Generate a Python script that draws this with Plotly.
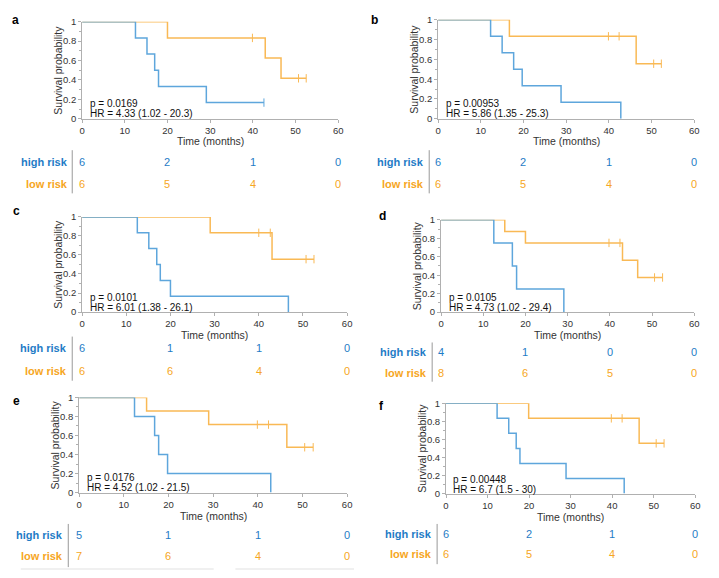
import plotly.graph_objects as go

W, H = 719, 578

panel_letters = ["a", "b", "c", "d", "e", "f"]

# Kaplan-Meier step data (step times, survival after step), censor times
high_times = [
    [0, 12.5, 15.2, 17.0, 17.9, 29.1, 42.6],
    [0, 12.3, 15.0, 17.7, 19.7, 28.8, 42.8],
    [0, 12.5, 15.1, 16.9, 17.7, 20.0, 46.7],
    [0, 12.5, 16.9, 17.9, 29.1],
    [0, 12.4, 16.9, 17.8, 19.8, 42.9],
    [0, 12.3, 15.1, 16.9, 17.8, 28.9, 42.9],
]
high_surv = [
    [1, 0.833, 0.667, 0.5, 0.333, 0.167, 0.167],
    [1, 0.833, 0.667, 0.5, 0.333, 0.167, 0.0],
    [1, 0.833, 0.667, 0.5, 0.333, 0.167, 0.0],
    [1, 0.75, 0.5, 0.25, 0.0],
    [1, 0.8, 0.6, 0.4, 0.2, 0.0],
    [1, 0.833, 0.667, 0.5, 0.333, 0.167, 0.0],
]
high_censor_t = [[42.6], [], [], [], [], []]
high_censor_s = [[0.167], [], [], [], [], []]

low_times = [
    [0, 20.0, 42.9, 46.6, 52.5],
    [0, 16.7, 46.4, 52.3],
    [0, 29.0, 43.0, 52.5],
    [0, 15.1, 20.0, 43.0, 46.6, 52.5],
    [0, 15.1, 29.0, 46.5, 52.4],
    [0, 19.9, 46.5, 52.5],
]
low_surv = [
    [1, 0.833, 0.625, 0.417, 0.417],
    [1, 0.833, 0.556, 0.556],
    [1, 0.833, 0.556, 0.556],
    [1, 0.875, 0.75, 0.5625, 0.375, 0.375],
    [1, 0.857, 0.714, 0.476, 0.476],
    [1, 0.833, 0.556, 0.556],
]
low_censor_t = [
    [39.9, 50.7, 52.5],
    [39.9, 42.4, 50.5, 52.3],
    [40.0, 42.6, 50.7, 52.5],
    [39.8, 42.4, 50.6, 52.5],
    [39.9, 42.4, 50.5, 52.4],
    [39.8, 42.4, 50.6, 52.5],
]
low_censor_s = [
    [0.833, 0.417, 0.417],
    [0.833, 0.833, 0.556, 0.556],
    [0.833, 0.833, 0.556, 0.556],
    [0.75, 0.75, 0.375, 0.375],
    [0.714, 0.714, 0.476, 0.476],
    [0.833, 0.833, 0.556, 0.556],
]

p_values = ["p = 0.0169", "p = 0.00953", "p = 0.0101", "p = 0.0105", "p = 0.0176", "p = 0.00448"]
hr_values = ["HR = 4.33 (1.02 - 20.3)", "HR = 5.86 (1.35 - 25.3)", "HR = 6.01 (1.38 - 26.1)",
             "HR = 4.73 (1.02 - 29.4)", "HR = 4.52 (1.02 - 21.5)", "HR = 6.7 (1.5 - 30)"]

table_times = [0, 20, 40, 60]
high_at_risk = [[6, 2, 1, 0], [6, 2, 1, 0], [6, 1, 1, 0], [4, 1, 0, 0], [5, 1, 1, 0], [6, 2, 1, 0]]
low_at_risk = [[6, 5, 4, 0], [6, 5, 4, 0], [6, 6, 4, 0], [8, 6, 5, 0], [7, 6, 4, 0], [6, 5, 4, 0]]

x_ticks = [0, 10, 20, 30, 40, 50, 60]
y_ticks = [0, 0.2, 0.4, 0.6, 0.8, 1]
y_tick_text = ["0", "0.2", "0.4", "0.6", "0.8", "1"]

# layout (pixel positions)
plot_px = [  # left, right, top, bottom
    (80, 339, 16, 115),
    (440, 699, 14, 115),
    (80, 348, 215, 312),
    (443, 699, 218, 312),
    (77, 348, 399, 496),
    (448, 700, 405, 497),
]
letter_px = [(13, 14), (376, 14), (14, 209), (384, 214), (14, 403), (383, 408)]
table_px = [  # label right edge, vline x, vline top, vline bottom, high y, low y
    (68, 70, 147, 191, 159, 181),
    (428, 431, 147, 191, 159, 181),
    (67, 70, 337, 382, 349, 372),
    (431, 434, 343, 383, 353, 374),
    (63, 66, 528, 572, 539, 561),
    (436, 439, 528, 569, 538, 559),
]
time_title_y = [138, 138, 335, 335, 520, 521]

BLUE_LINE = "#5ea6dc"
ORANGE_LINE = "#f9b955"
BLUE_TXT = "#1f7cc6"
ORANGE_TXT = "#f6a623"
FONT = "Liberation Sans, Arial, sans-serif"

fig = go.Figure()
annotations = []
shapes = []

for i in range(6):
    n = i + 1
    xa = "x" if n == 1 else f"x{n}"
    ya = "y" if n == 1 else f"y{n}"
    for t, s, col in [(low_times[i], low_surv[i], ORANGE_LINE), (high_times[i], high_surv[i], BLUE_LINE)]:
        fig.add_trace(go.Scatter(x=t, y=s, mode="lines", line=dict(color=col, width=1.5, shape="hv"),
                                 xaxis=xa, yaxis=ya, showlegend=False, hoverinfo="skip", cliponaxis=False))
    for ct, cs, col in [(low_censor_t[i], low_censor_s[i], ORANGE_LINE), (high_censor_t[i], high_censor_s[i], BLUE_LINE)]:
        if ct:
            fig.add_trace(go.Scatter(x=ct, y=cs, mode="markers",
                                     marker=dict(symbol="line-ns", size=6, line=dict(color=col, width=1)),
                                     xaxis=xa, yaxis=ya, showlegend=False, hoverinfo="skip", cliponaxis=False))
    l, r, t_, b = plot_px[i]
    axis_common = dict(showgrid=False, zeroline=False, showline=True, linecolor="#b0b0b0", linewidth=1,
                       ticks="outside", ticklen=3, tickcolor="#b0b0b0",
                       tickfont=dict(family=FONT, size=9.5, color="#333333"))
    fig.update_layout({
        ("xaxis" if n == 1 else f"xaxis{n}"): dict(
            domain=[l / W, r / W], range=[0, 60], anchor=ya, tickvals=x_ticks, **axis_common),
        ("yaxis" if n == 1 else f"yaxis{n}"): dict(
            domain=[1 - b / H, 1 - t_ / H], range=[0, 1], anchor=xa, tickvals=y_ticks, ticktext=y_tick_text,
            minor=dict(tickvals=[0.1, 0.3, 0.5, 0.7, 0.9], ticks="outside", ticklen=2, tickcolor="#b0b0b0"),
            **axis_common),
    })
    # panel letter
    lx, ly = letter_px[i]
    annotations.append(dict(text=f"<b>{panel_letters[i]}</b>", x=lx / W, y=1 - ly / H, xref="paper", yref="paper",
                            showarrow=False, xanchor="center", yanchor="middle",
                            font=dict(family=FONT, size=12, color="#000")))
    # stats text
    annotations.append(dict(text=p_values[i], x=1.3, y=0.155, xref=xa, yref=ya, showarrow=False,
                            xanchor="left", yanchor="middle", font=dict(family=FONT, size=10, color="#111")))
    annotations.append(dict(text=hr_values[i], x=1.3, y=0.05, xref=xa, yref=ya, showarrow=False,
                            xanchor="left", yanchor="middle", font=dict(family=FONT, size=10, color="#111")))
    # axis titles
    annotations.append(dict(text="Survival probability", x=(l - 24) / W, y=1 - (t_ + b) / 2 / H, xref="paper",
                            yref="paper", showarrow=False, textangle=-90, xanchor="center", yanchor="middle",
                            font=dict(family=FONT, size=10.5, color="#333")))
    annotations.append(dict(text="Time (months)", x=(l + r) / 2 / W, y=1 - time_title_y[i] / H, xref="paper",
                            yref="paper", showarrow=False, xanchor="center", yanchor="middle",
                            font=dict(family=FONT, size=10.5, color="#333")))
    # risk table
    lr, vx, vt, vb, hy, lyy = table_px[i]
    annotations.append(dict(text="<b>high risk</b>", x=lr / W, y=1 - hy / H, xref="paper", yref="paper",
                            showarrow=False, xanchor="right", yanchor="middle",
                            font=dict(family=FONT, size=11, color=BLUE_TXT)))
    annotations.append(dict(text="<b>low risk</b>", x=lr / W, y=1 - lyy / H, xref="paper", yref="paper",
                            showarrow=False, xanchor="right", yanchor="middle",
                            font=dict(family=FONT, size=11, color=ORANGE_TXT)))
    shapes.append(dict(type="line", xref="paper", yref="paper", x0=vx / W, x1=vx / W, y0=1 - vt / H,
                       y1=1 - vb / H, line=dict(color="#999999", width=1)))
    for tt, hv, lv in zip(table_times, high_at_risk[i], low_at_risk[i]):
        annotations.append(dict(text=str(hv), x=tt, y=1 - hy / H, xref=xa, yref="paper", showarrow=False,
                                xanchor="center", yanchor="middle", font=dict(family=FONT, size=11, color=BLUE_TXT)))
        annotations.append(dict(text=str(lv), x=tt, y=1 - lyy / H, xref=xa, yref="paper", showarrow=False,
                                xanchor="center", yanchor="middle", font=dict(family=FONT, size=11, color=ORANGE_TXT)))

# faint screenshot edge lines along the bottom of the reference
for x0, x1 in [(18, 213), (235, 355)]:
    shapes.append(dict(type="line", xref="paper", yref="paper", x0=x0 / W, x1=x1 / W, y0=1 - 574 / H,
                       y1=1 - 574 / H, line=dict(color="#f0f0f0", width=2)))

fig.update_layout(width=W, height=H, autosize=False, margin=dict(l=0, r=0, t=0, b=0),
                  paper_bgcolor="white", plot_bgcolor="white", annotations=annotations, shapes=shapes,
                  font=dict(family=FONT))

fig.write_html("out.html", config={"displayModeBar": False},
               post_script="document.body.style.margin='0';")
